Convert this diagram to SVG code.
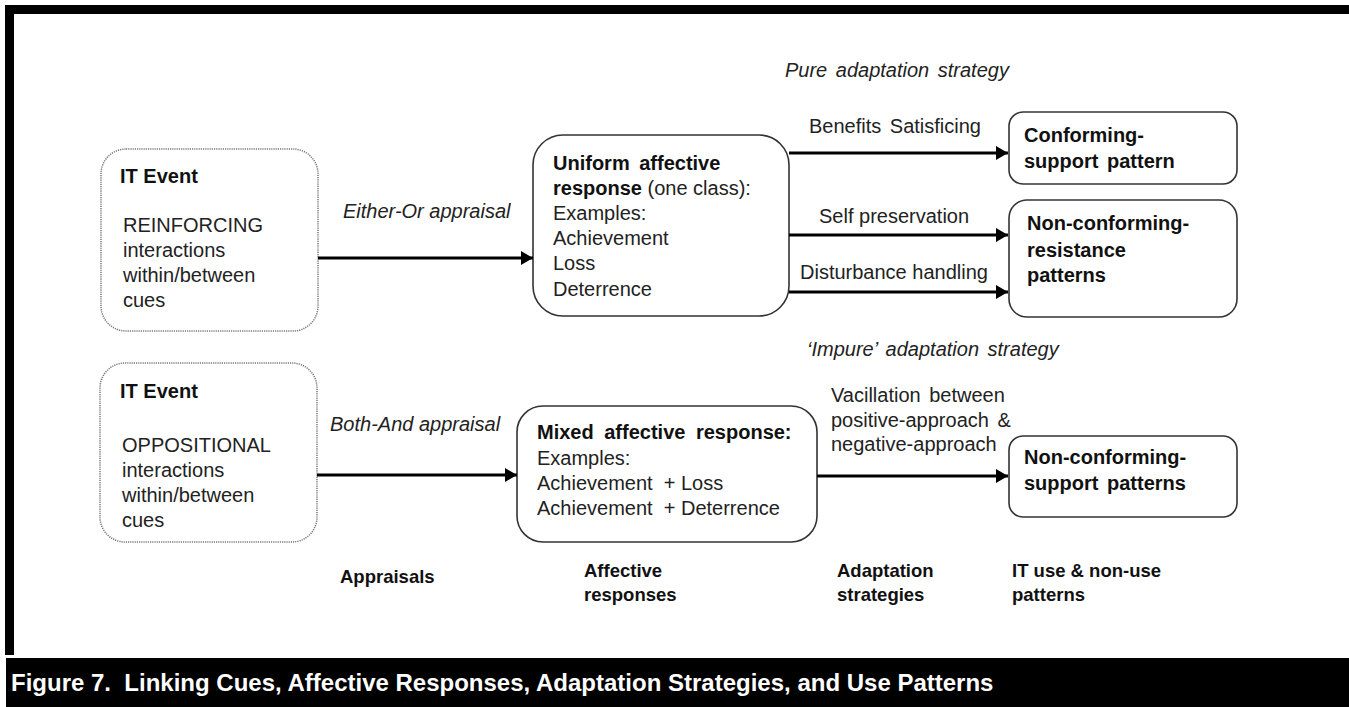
<svg xmlns="http://www.w3.org/2000/svg" width="1349" height="707" viewBox="0 0 1349 707">
<style>
text{font-family:"Liberation Sans",Arial,sans-serif;font-size:20px;fill:#222}
.b{font-weight:bold;fill:#111}
.i{font-style:italic}
.s{font-size:18.5px}
.ev{fill:#fff;stroke:#777;stroke-width:1.5;stroke-dasharray:1.2 1}
.box{fill:#fff;stroke:#333;stroke-width:1.6}
.con{stroke:#000;stroke-width:3;fill:none}
.cap{font-weight:bold;font-size:24px;fill:#fff}
</style>
<defs>
<marker id="ah" viewBox="0 0 12 14" refX="12" refY="7" markerWidth="12" markerHeight="14" markerUnits="userSpaceOnUse" orient="auto">
<path d="M0,0 L12,7 L0,14 Z" fill="#000"/>
</marker>
</defs>
<rect x="0" y="0" width="1349" height="707" fill="#fff"/>
<rect x="5" y="5" width="1344" height="9" fill="#000"/>
<rect x="5" y="5" width="9" height="650" fill="#000"/>
<rect x="6" y="658" width="1343" height="49" fill="#000"/>
<text class="cap" x="11" y="691" xml:space="preserve">Figure 7.  Linking Cues, Affective Responses, Adaptation Strategies, and Use Patterns</text>

<g id="event1">
<rect class="ev" x="101" y="149" width="217" height="182" rx="25"/>
<text class="b" x="120" y="183">IT Event</text>
<text x="123" y="232">REINFORCING</text>
<text x="123" y="257">interactions</text>
<text x="123" y="282">within/between</text>
<text x="123" y="307">cues</text>
</g>
<g id="event2">
<rect class="ev" x="100" y="363" width="217" height="179" rx="25"/>
<text class="b" x="120" y="398">IT Event</text>
<text x="122" y="452">OPPOSITIONAL</text>
<text x="122" y="477">interactions</text>
<text x="122" y="502">within/between</text>
<text x="122" y="527">cues</text>
</g>
<g id="uniform">
<rect class="box" x="533" y="135" width="256" height="181" rx="30"/>
<text class="b" x="553" y="170" word-spacing="4">Uniform affective</text>
<text x="553" y="195"><tspan class="b">response</tspan> (one class):</text>
<text x="553" y="220">Examples:</text>
<text x="553" y="245">Achievement</text>
<text x="553" y="270">Loss</text>
<text x="553" y="296">Deterrence</text>
</g>
<g id="mixed">
<rect class="box" x="517" y="406" width="300" height="136" rx="26"/>
<text class="b" x="537" y="439" word-spacing="5">Mixed affective response:</text>
<text x="537" y="465">Examples:</text>
<text x="537" y="490" xml:space="preserve">Achievement  + Loss</text>
<text x="537" y="515" xml:space="preserve">Achievement  + Deterrence</text>
</g>
<g id="conforming">
<rect class="box" x="1009" y="112" width="228" height="72" rx="14"/>
<text class="b" x="1024" y="142">Conforming-</text>
<text class="b" x="1024" y="168" word-spacing="3">support pattern</text>
</g>
<g id="resistance">
<rect class="box" x="1009" y="200" width="228" height="117" rx="18"/>
<text class="b" x="1027" y="230">Non-conforming-</text>
<text class="b" x="1027" y="257">resistance</text>
<text class="b" x="1027" y="282">patterns</text>
</g>
<g id="ncsupport">
<rect class="box" x="1009" y="436" width="228" height="81" rx="14"/>
<text class="b" x="1024" y="464">Non-conforming-</text>
<text class="b" x="1024" y="490" word-spacing="3">support patterns</text>
</g>

<g id="connectors">
<line class="con" x1="318" y1="258" x2="533" y2="258" marker-end="url(#ah)"/>
<line class="con" x1="317" y1="475" x2="517" y2="475" marker-end="url(#ah)"/>
<line class="con" x1="789" y1="153" x2="1008" y2="153" marker-end="url(#ah)"/>
<line class="con" x1="789" y1="235" x2="1008" y2="235" marker-end="url(#ah)"/>
<line class="con" x1="789" y1="292" x2="1008" y2="292" marker-end="url(#ah)"/>
<line class="con" x1="817" y1="476" x2="1008" y2="476" marker-end="url(#ah)"/>
</g>

<g id="labels">
<text class="i" x="343" y="218">Either-Or appraisal</text>
<text class="i" x="330" y="431">Both-And appraisal</text>
<text class="i" x="785" y="77" word-spacing="3">Pure adaptation strategy</text>
<text class="i" x="807" y="356" word-spacing="3">‘Impure’ adaptation strategy</text>
<text x="809" y="133" word-spacing="3">Benefits Satisficing</text>
<text x="819" y="223">Self preservation</text>
<text x="800" y="279">Disturbance handling</text>
<text x="831" y="402" word-spacing="3">Vacillation between</text>
<text x="831" y="427" word-spacing="3">positive-approach &amp;</text>
<text x="831" y="451">negative-approach</text>
<text class="b s" x="340" y="583">Appraisals</text>
<text class="b s" x="584" y="577">Affective</text>
<text class="b s" x="584" y="601">responses</text>
<text class="b s" x="837" y="577">Adaptation</text>
<text class="b s" x="837" y="601">strategies</text>
<text class="b s" x="1012" y="577">IT use &amp; non-use</text>
<text class="b s" x="1012" y="601">patterns</text>
</g>
</svg>
